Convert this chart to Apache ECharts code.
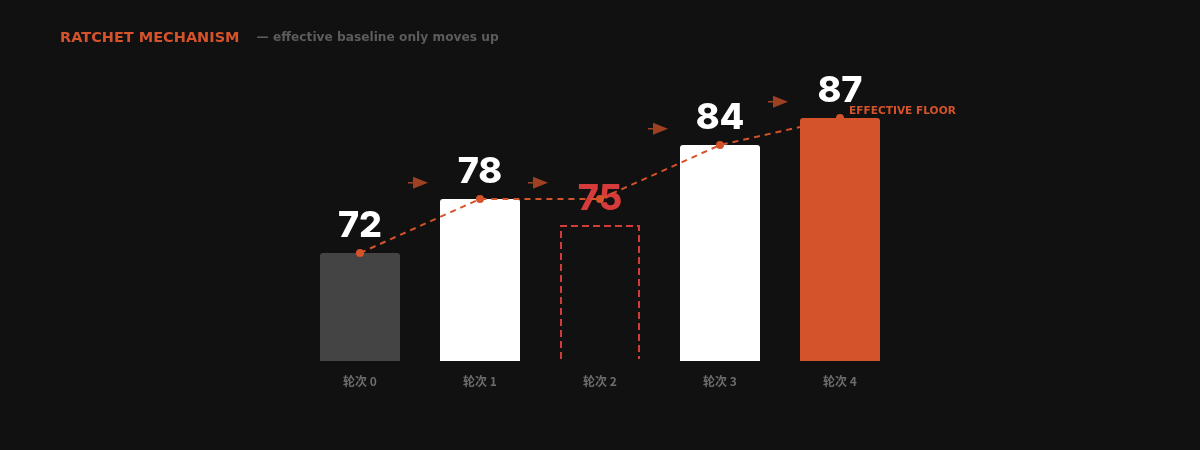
<!DOCTYPE html>
<html><head><meta charset="utf-8">
<script src="https://cdn.jsdelivr.net/npm/echarts@6/dist/echarts.min.js"></script>
<style>html,body{margin:0;padding:0;background:#111111;}#c{width:1200px;height:450px;}</style>
</head><body><div id="c"></div>
<script>
var categories = ['轮次 0', '轮次 1', '轮次 2', '轮次 3', '轮次 4'];
var roundScores = [72, 78, 75, 84, 87];
var effectiveFloor = [72, 78, 78, 84, 87];
var arrowX = [0.5, 1.5, 2.5, 3.5];
var arrowY = [79.8, 79.8, 85.8, 88.8];
var titleText = 'RATCHET MECHANISM';
var subtitleText = '— effective baseline only moves up';
var floorLabel = 'EFFECTIVE FLOOR';

var ORANGE = '#d4532b';
var RED = '#d63b3b';
var barColors = ['#444444', '#ffffff', 'rgba(0,0,0,0)', '#ffffff', ORANGE];
var labelColors = ['#ffffff', '#ffffff', RED, '#ffffff', '#ffffff'];
var rejectedIndex = 2;

var chart = echarts.init(document.getElementById('c'));
var option = {
  backgroundColor: '#111111',
  animation: false,
  title: {
    left: 55, top: 24,
    text: '{a|' + titleText + '}{gap|}{b|' + subtitleText + '}',
    textStyle: {
      rich: {
        a: { color: ORANGE, fontSize: 14.5, fontWeight: 'bold', fontFamily: 'DejaVu Sans' },
        gap: { width: 17 },
        b: { color: '#5c5c5c', fontSize: 12.2, fontWeight: 'bold', fontFamily: 'DejaVu Sans' }
      }
    }
  },
  grid: { left: 300, right: 300, top: 91, bottom: 89 },
  xAxis: [
    { type: 'category', data: categories, axisLine: { show: false }, axisTick: { show: false },
      axisLabel: { color: '#6c6c6c', fontSize: 12, fontWeight: 600, margin: 14, fontFamily: 'Noto Sans CJK SC' } },
    { type: 'value', min: -0.5, max: 4.5, show: false }
  ],
  yAxis: { type: 'value', min: 60, max: 90, show: false },
  series: [
    {
      type: 'bar', barWidth: 80, z: 2,
      data: roundScores.map(function (v, i) {
        return {
          value: v,
          itemStyle: { color: barColors[i], borderRadius: [3, 3, 0, 0] },
          label: { color: labelColors[i] }
        };
      }),
      label: { show: true, position: 'top', distance: 9, fontSize: 36, fontWeight: 800, fontFamily: 'Inter' }
    },
    {
      type: 'custom', z: 3,
      data: [[rejectedIndex, roundScores[rejectedIndex]]],
      renderItem: function (params, api) {
        var top = api.coord([api.value(0), api.value(1)]);
        var bottom = api.coord([api.value(0), 60]);
        var w = api.size([1, 0])[0] * (80 / 120);
        var l = top[0] - w / 2 + 1, r = top[0] + w / 2 - 1;
        return {
          type: 'polyline',
          shape: { points: [[l, bottom[1] - 2], [l, top[1]], [r, top[1]], [r, bottom[1] - 2]] },
          style: { stroke: RED, fill: null, lineWidth: 2, lineDash: [7, 4] }
        };
      }
    },
    {
      type: 'line', z: 5,
      data: effectiveFloor.map(function (v, i) {
        if (i === effectiveFloor.length - 1) {
          return { value: v, label: { show: true, position: 'right', offset: [0, -7], formatter: floorLabel,
            color: ORANGE, fontSize: 10.6, fontWeight: 'bold', fontFamily: 'DejaVu Sans' } };
        }
        return v;
      }),
      symbol: 'circle', symbolSize: 8,
      itemStyle: { color: ORANGE },
      lineStyle: { color: ORANGE, width: 2, type: [6, 5] }
    },
    {
      type: 'scatter', xAxisIndex: 1, yAxisIndex: 0, z: 4,
      data: arrowX.map(function (x, i) { return [x, arrowY[i]]; }),
      symbol: 'path://M0,5.3 L5,5.3 L5,0 L20,6 L5,12 L5,6.7 L0,6.7 Z',
      symbolSize: [20, 12],
      symbolOffset: [-2, 0],
      itemStyle: { color: '#c24c27' }
    }
  ]
};
chart.setOption(option);
</script></body></html>
